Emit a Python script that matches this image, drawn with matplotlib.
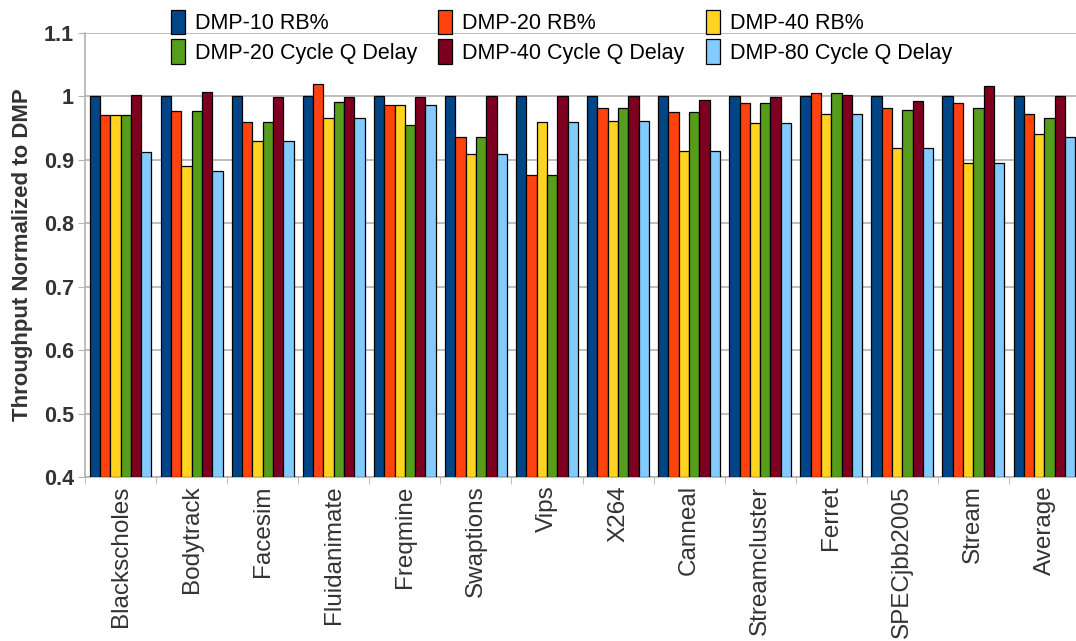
import numpy as np
import matplotlib
matplotlib.use('Agg')
import matplotlib.pyplot as plt
from matplotlib.patches import Patch

plt.rcParams['font.family'] = ['Liberation Sans', 'DejaVu Sans']

benchmarks = ['Blackscholes', 'Bodytrack', 'Facesim', 'Fluidanimate', 'Freqmine',
              'Swaptions', 'Vips', 'X264', 'Canneal', 'Streamcluster', 'Ferret',
              'SPECjbb2005', 'Stream', 'Average']

series_names = ['DMP-10 RB%', 'DMP-20 RB%', 'DMP-40 RB%',
                'DMP-20 Cycle Q Delay', 'DMP-40 Cycle Q Delay', 'DMP-80 Cycle Q Delay']

dmp10_rb = [1.0, 1.0, 1.0, 1.0, 1.0, 1.0, 1.0, 1.0, 1.0, 1.0, 1.0, 1.0, 1.0, 1.0]
dmp20_rb = [0.970, 0.977, 0.959, 1.020, 0.987, 0.936, 0.876, 0.981, 0.976, 0.990, 1.006, 0.981, 0.989, 0.972]
dmp40_rb = [0.970, 0.890, 0.930, 0.966, 0.987, 0.909, 0.960, 0.962, 0.914, 0.958, 0.972, 0.919, 0.895, 0.941]
dmp20_cq = [0.970, 0.977, 0.959, 0.991, 0.955, 0.936, 0.876, 0.981, 0.976, 0.990, 1.006, 0.978, 0.981, 0.966]
dmp40_cq = [1.002, 1.007, 0.999, 0.999, 0.999, 1.000, 1.000, 1.001, 0.995, 0.999, 1.003, 0.993, 1.016, 1.001]
dmp80_cq = [0.912, 0.883, 0.930, 0.966, 0.987, 0.909, 0.960, 0.962, 0.914, 0.958, 0.972, 0.919, 0.895, 0.936]

colors = ['#004586', '#ff420e', '#ffd320', '#579d1c', '#7e0021', '#83caff']

series = [dmp10_rb, dmp20_rb, dmp40_rb, dmp20_cq, dmp40_cq, dmp80_cq]

fig = plt.figure(figsize=(10.76, 6.41), dpi=100)
ax = fig.add_axes([85 / 1076, 1 - 477 / 641, 995 / 1076, 444 / 641])

x = np.arange(len(benchmarks))
bw = 0.145
for i, (vals, col) in enumerate(zip(series, colors)):
    ax.bar(x + (i - 2.5) * bw, np.array(vals) - 0.4, bw, bottom=0.4, color=col,
           edgecolor='black', linewidth=0.9, zorder=3, label=series_names[i])

ax.set_xlim(-0.5, len(benchmarks) - 0.5)
ax.set_ylim(0.4, 1.1)
ax.set_yticks(np.arange(0.4, 1.101, 0.1))
ax.set_yticklabels(['0.4', '0.5', '0.6', '0.7', '0.8', '0.9', '1', '1.1'],
                   fontsize=15.5, fontweight='bold', color='#333333')
ax.yaxis.grid(True, color='#b3b3b3', linewidth=1.2, zorder=0)

ax.set_xticks(x)
ax.set_xticklabels(benchmarks, rotation=90, fontsize=17.5, color='#333333')
ax.tick_params(axis='x', which='major', length=0, pad=6)
ax.set_xticks(np.arange(-0.5, len(benchmarks), 1), minor=True)
ax.tick_params(axis='x', which='minor', length=5, color='#b3b3b3')
ax.tick_params(axis='y', length=5, color='#b3b3b3', pad=3)

for s in ['top', 'right']:
    ax.spines[s].set_visible(False)
for s in ['left', 'bottom']:
    ax.spines[s].set_color('#b3b3b3')
    ax.spines[s].set_linewidth(1.2)

ax.set_ylabel('Throughput Normalized to DMP', fontsize=16, fontweight='bold',
              color='#333333', labelpad=8)

handles = [Patch(facecolor=c, edgecolor='black', linewidth=0.9) for c in colors]
order = [0, 3, 1, 4, 2, 5]
fig.legend([handles[i] for i in order], [series_names[i] for i in order],
           ncol=3, loc='upper left', bbox_to_anchor=(158 / 1076, 1.005),
           frameon=False, fontsize=15.5, handlelength=0.65, handleheight=1.35,
           handletextpad=0.45, columnspacing=1.0, labelspacing=0.25,
           borderaxespad=0.2)

fig.savefig('out.png', dpi=100)
